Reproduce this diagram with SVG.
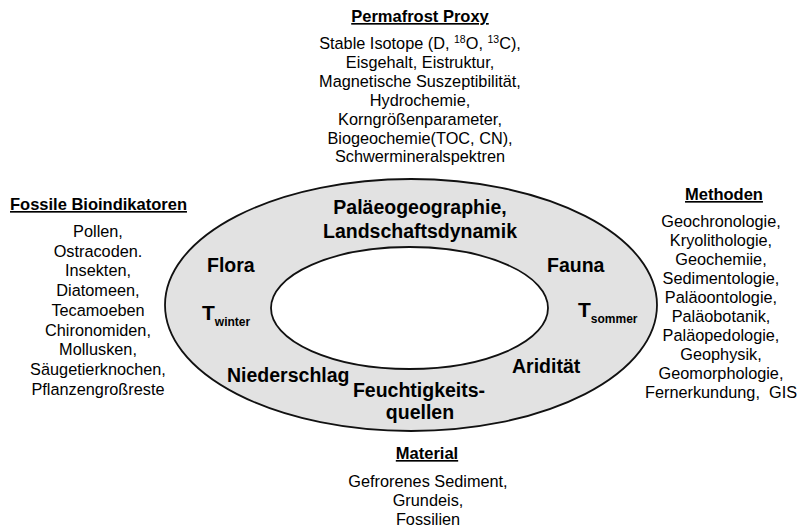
<svg xmlns="http://www.w3.org/2000/svg" width="799" height="532" viewBox="0 0 799 532">
<style>
text{font-family:"Liberation Sans",Arial,sans-serif;fill:#000;text-anchor:middle}
.t{font-size:16.5px;font-weight:bold;text-decoration:underline}
.b{font-size:16.3px}
.r{font-size:19.5px;font-weight:bold}
.sub{font-size:12px}
.sup{font-size:10.5px}
</style>
<rect width="799" height="532" fill="#fff"/>
<g id="ring">
<ellipse cx="411" cy="305" rx="246" ry="126" fill="#e2e2e2" stroke="#111" stroke-width="1.8"/>
<ellipse cx="409.5" cy="308" rx="138.5" ry="61" fill="#fff" stroke="#111" stroke-width="1.8"/>
</g>
<g id="ring-labels">
<text class="r" x="420" y="214">Paläeogeographie,</text>
<text class="r" x="420" y="238">Landschaftsdynamik</text>
<text class="r" x="207" y="272" style="text-anchor:start">Flora</text>
<text class="r" x="547" y="272" style="text-anchor:start">Fauna</text>
<text class="r" x="202" y="320" style="text-anchor:start;font-size:21px">T<tspan class="sub" dy="6">winter</tspan></text>
<text class="r" x="578" y="317" style="text-anchor:start;font-size:21px">T<tspan class="sub" dy="6">sommer</tspan></text>
<text class="r" x="227" y="382" style="text-anchor:start">Niederschlag</text>
<text class="r" x="512" y="373" style="text-anchor:start">Aridität</text>
<text class="r" x="419" y="397">Feuchtigkeits-</text>
<text class="r" x="420" y="419">quellen</text>
</g>
<g id="permafrost-proxy">
<text class="t" x="420" y="22">Permafrost Proxy</text>
<text class="b" x="420" y="49">Stable Isotope (D, <tspan class="sup" dy="-6">18</tspan><tspan dy="6">O, </tspan><tspan class="sup" dy="-6">13</tspan><tspan dy="6">C),</tspan></text>
<text class="b" x="420" y="67.9">Eisgehalt, Eistruktur,</text>
<text class="b" x="420" y="86.8">Magnetische Suszeptibilität,</text>
<text class="b" x="420" y="105.7">Hydrochemie,</text>
<text class="b" x="420" y="124.6">Korngrößenparameter,</text>
<text class="b" x="420" y="143.5">Biogeochemie(TOC, CN),</text>
<text class="b" x="420" y="162.4">Schwermineralspektren</text>
</g>
<g id="fossile-bioindikatoren">
<text class="t" x="98.5" y="210">Fossile Bioindikatoren</text>
<text class="b" x="98" y="237">Pollen,</text>
<text class="b" x="98" y="256.7">Ostracoden.</text>
<text class="b" x="98" y="276.4">Insekten,</text>
<text class="b" x="98" y="296.1">Diatomeen,</text>
<text class="b" x="98" y="315.8">Tecamoeben</text>
<text class="b" x="98" y="335.5">Chironomiden,</text>
<text class="b" x="98" y="355.2">Mollusken,</text>
<text class="b" x="98" y="374.9">Säugetierknochen,</text>
<text class="b" x="98" y="394.6">Pflanzengroßreste</text>
</g>
<g id="methoden">
<text class="t" x="724" y="200">Methoden</text>
<text class="b" x="721" y="226.7">Geochronologie,</text>
<text class="b" x="721" y="245.7">Kryolithologie,</text>
<text class="b" x="721" y="264.7">Geochemiie,</text>
<text class="b" x="721" y="283.7">Sedimentologie,</text>
<text class="b" x="721" y="302.7">Paläoontologie,</text>
<text class="b" x="721" y="321.7">Paläobotanik,</text>
<text class="b" x="721" y="340.7">Paläopedologie,</text>
<text class="b" x="721" y="359.7">Geophysik,</text>
<text class="b" x="721" y="378.7">Geomorphologie,</text>
<text class="b" x="721" y="397.7">Fernerkundung,&#160; GIS</text>
</g>
<g id="material">
<text class="t" x="427" y="459">Material</text>
<text class="b" x="428" y="487">Gefrorenes Sediment,</text>
<text class="b" x="428" y="506">Grundeis,</text>
<text class="b" x="428" y="525">Fossilien</text>
</g>
</svg>
